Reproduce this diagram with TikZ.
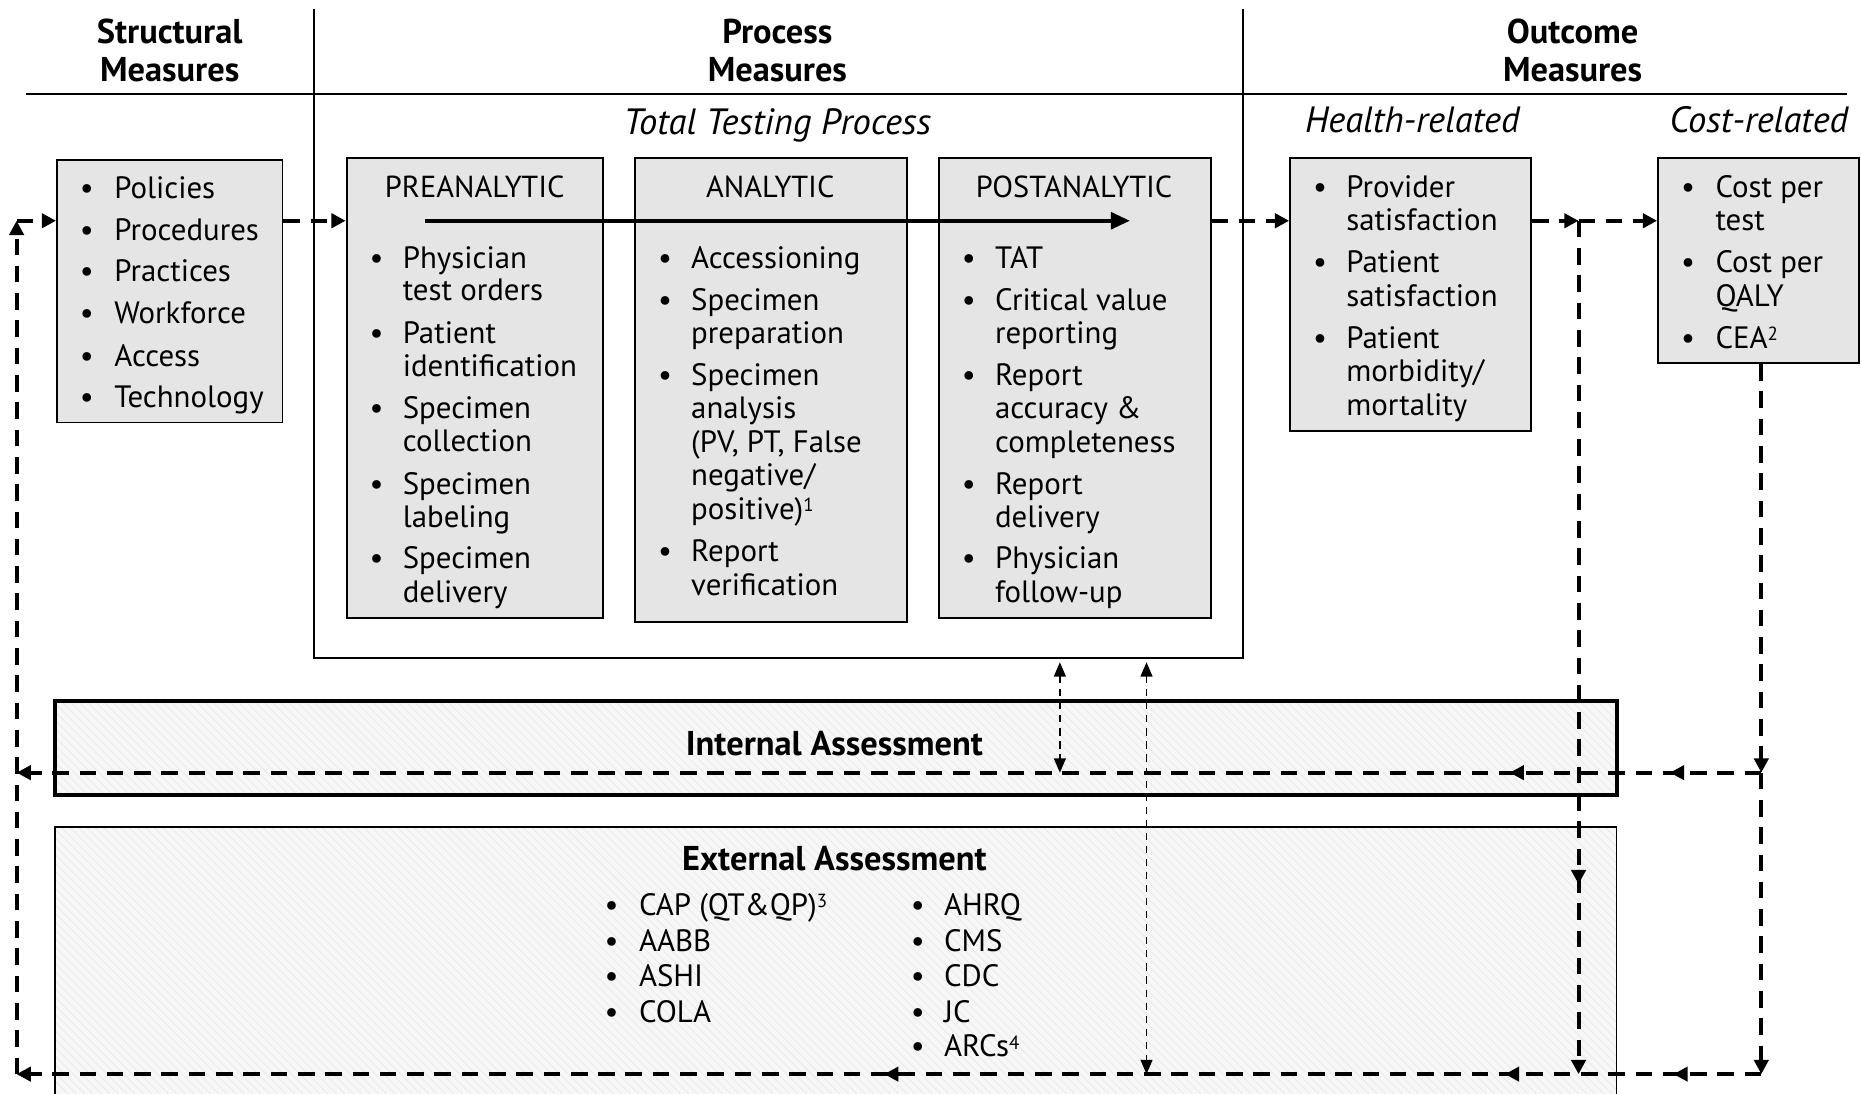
\documentclass[tikz,border=0pt]{standalone}
\usepackage{fontspec}
\setmainfont{PT Sans}
\usetikzlibrary{arrows.meta,decorations.markings,fit,patterns.meta}
\newcommand\supx[1]{\raisebox{0.5ex}{\fontsize{8}{8}\selectfont #1}}
\begin{document}
\begin{tikzpicture}[x=0.5pt,y=-0.5pt,
  box/.style={draw, line width=0.8pt, fill=black!10, inner sep=0pt},
  abox/.style={draw, inner sep=0pt, preaction={fill=black!3},
     pattern={Lines[angle=-45,distance=2.5pt,line width=0.3pt]}, pattern color=black!9},
  txt/.style={font=\fontsize{13}{14}\selectfont, inner sep=0pt, anchor=west, text height=0.7em, text depth=0pt, yshift=-1.2pt},
  ctr/.style={txt, anchor=center},
  bh/.style={ctr, font=\fontsize{12.8}{14}\selectfont},
  hdr/.style={ctr, font=\bfseries\fontsize{14.5}{15}\selectfont},
  ital/.style={ctr, font=\itshape\fontsize{15.4}{16}\selectfont},
  tip/.style={-{Triangle[length=6pt,width=6pt]}},
  dar/.style={line width=1.7pt, dash pattern=on 7pt off 4.5pt, tip},
  tdar/.style={line width=0.6pt, dash pattern=on 3pt off 2.5pt, {Triangle[length=6pt,width=5pt]}-{Triangle[length=6pt,width=5pt]}},
  midarrow/.style={postaction={decorate, decoration={markings, mark=at position #1 with {\arrow{Triangle[length=6pt,width=6pt]}}}}}
]
\useasboundingbox (0,0) rectangle (1568,921);

% header lines
\coordinate (hl) at (22,79);
\coordinate (hr) at (1556,79);
\draw[line width=0.8pt] (hl) -- (hr);
\node[inner sep=0pt, fit={(265,8) (1047,554)}] (proc) {};
\draw[line width=0.8pt] (proc.north west) -- (proc.south west) -- (proc.south east) -- (proc.north east);

\node[hdr] (hS1) at (143,27) {Structural};
\node[hdr] (hS2) at (143,59) {Measures};
\node[hdr] (hP1) at (655,27) {Process};
\node[hdr] (hP2) at (655,59) {Measures};
\node[hdr] (hO1) at (1325,27) {Outcome};
\node[hdr] (hO2) at (1325,59) {Measures};
\node[ital] (tTP) at (655,104) {Total Testing Process};
\node[ital] (tHR) at (1190,102) {Health-related};
\node[ital] (tCR) at (1482,102) {Cost-related};

% boxes
\node[box, fit={(48,135) (238,356)}] (struct) {};
\node[box, fit={(292,133) (508,521)}] (pre) {};
\node[box, fit={(535,133) (764,524)}] (ana) {};
\node[box, fit={(791,133) (1020,521)}] (post) {};
\node[box, fit={(1087,133) (1290,363)}] (health) {};
\node[box, fit={(1397,133) (1566,306)}] (cost) {};
\node[abox, line width=1.7pt, fit={(46,591) (1362,670)}] (intA) {};
\node[abox, line width=0.8pt, fit={(46,697) (1362,940)}] (extA) {};

% structural
\foreach \t/\y [count=\i] in {Policies/158, Procedures/193, Practices/228, Workforce/263, Access/299, Technology/334}{
  \node[txt] (sb\i) at (67,\y) {\textbullet};
  \node[txt] (st\i) at (96,\y) {\t};
}

% preanalytic
\node[bh] (preH) at (400,157) {PREANALYTIC};
\foreach \y [count=\i] in {217,280,343,407,470}{ \node[txt] (pb\i) at (311,\y) {\textbullet}; }
\foreach \t/\y [count=\i] in {Physician/217, test orders/244, Patient/280, identification/308, Specimen/343, collection/371, Specimen/407, labeling/435, Specimen/470, delivery/498}{
  \node[txt] (pt\i) at (339,\y) {\t};
}

% analytic
\node[bh] (anaH) at (649,157) {ANALYTIC};
\foreach \y [count=\i] in {217,252,315,464}{ \node[txt] (ab\i) at (554,\y) {\textbullet}; }
\foreach \t/\y [count=\i] in {Accessioning/217, Specimen/252, preparation/280, Specimen/315, analysis/343, {(PV, PT, False}/372, negative\slash/400, positive)\supx{1}/428, Report/464, verification/492}{
  \node[txt] (at\i) at (582,\y) {\t};
}

% postanalytic
\node[bh] (postH) at (905,157) {POSTANALYTIC};
\foreach \y [count=\i] in {217,252,315,407,470}{ \node[txt] (qb\i) at (810,\y) {\textbullet}; }
\foreach \t/\y [count=\i] in {TAT/217, Critical value/252, reporting/280, Report/315, accuracy \&/343, completeness/372, Report/407, delivery/435, Physician/470, follow-up/498}{
  \node[txt] (qt\i) at (838,\y) {\t};
}

% health
\foreach \y [count=\i] in {157,220,284}{ \node[txt] (hb\i) at (1106,\y) {\textbullet}; }
\foreach \t/\y [count=\i] in {Provider/157, satisfaction/185, Patient/220, satisfaction/249, Patient/284, morbidity\slash/312, mortality/341}{
  \node[txt] (ht\i) at (1134,\y) {\t};
}

% cost
\foreach \y [count=\i] in {157,220,284}{ \node[txt] (cb\i) at (1416,\y) {\textbullet}; }
\foreach \t/\y [count=\i] in {Cost per/157, test/185, Cost per/220, QALY/249, CEA\supx{2}/284}{
  \node[txt] (ct\i) at (1445,\y) {\t};
}

% assessments
\node[hdr] (intT) at (703,627) {Internal Assessment};
\node[hdr] (extT) at (703,724) {External Assessment};
\foreach \t/\y [count=\i] in {CAP (QT\&QP)\supx{3}/762, AABB/792, ASHI/822, COLA/852}{
  \node[txt] (eb\i) at (509,\y) {\textbullet};
  \node[txt] (et\i) at (538,\y) {\t};
}
\foreach \t/\y [count=\i] in {AHRQ/762, CMS/792, CDC/822, JC/852, ARCs\supx{4}/881}{
  \node[txt] (fb\i) at (767,\y) {\textbullet};
  \node[txt] (ft\i) at (795,\y) {\t};
}

% process arrow
\coordinate (tA) at (358,186);
\coordinate (tB) at (952,186);
\draw[line width=1.6pt, -{Triangle[length=8pt,width=7pt]}] (tA) -- (tB);

% dashed flow
\coordinate (rowA) at (0,186);
\coordinate (jn) at (1330,186);
\coordinate (jnB) at (1330,905);
\coordinate (cI) at (1484,651);
\coordinate (cE) at (1484,905);
\coordinate (lI) at (14,651);
\coordinate (lE) at (14,905);
\coordinate (lT) at (14,186);
\draw[dar] (struct.east |- rowA) -- (pre.west |- rowA);
\draw[dar] (post.east |- rowA) -- (health.west |- rowA);
\draw[dar] (health.east |- rowA) -- (jn);
\draw[dar] (jn) -- (cost.west |- rowA);
\draw[dar, midarrow=279.5pt] (jn) -- (jnB);
\draw[dar] (cost.south -| cI) -- (cI);
\draw[dar] (cI) -- (cE);
\draw[dar, midarrow=38.5pt, midarrow=106pt] (cI) -- (lI);
\draw[dar, midarrow=37pt, midarrow=108pt, midarrow=369.5pt] (cE) -- (lE);
\draw[dar] (lE) -- (lT);
\draw[dar] (lT) -- (struct.west |- rowA);

% thin double arrows
\coordinate (d1t) at (893,558);
\coordinate (d1b) at (893,651);
\coordinate (d2t) at (966,558);
\coordinate (d2b) at (966,905);
\draw[tdar] (d1t) -- (d1b);
\draw[tdar] (d2t) -- (d2b);
\end{tikzpicture}
\end{document}
